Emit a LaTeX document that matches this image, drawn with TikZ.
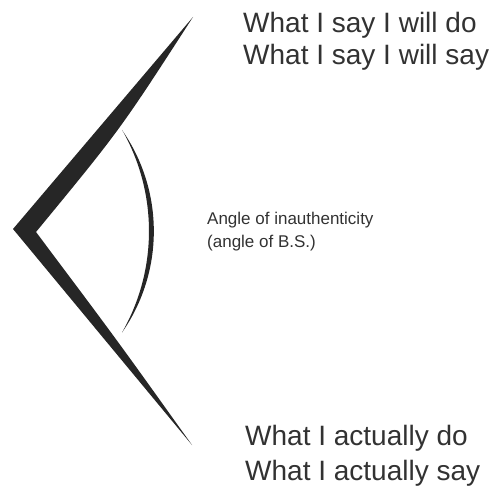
\documentclass[tikz,border=0pt]{standalone}
\usepackage{fontspec}
\setmainfont{Liberation Sans}
\usetikzlibrary{positioning}
\definecolor{inkgray}{RGB}{38, 38, 38}
\definecolor{textgray}{RGB}{50, 50, 50}

\begin{document}
\begin{tikzpicture}[x=1pt, y=-1pt,
    bigtext/.style={anchor=base west, inner sep=0pt, text=textgray,
      font=\fontsize{28}{34}\selectfont},
    smalltext/.style={anchor=base west, inner sep=0pt, text=textgray,
      font=\fontsize{17}{22}\selectfont}]

  \useasboundingbox (0,0) rectangle (495,489);

  % ===== 两条渐细的边（楔形） =====
  \fill[inkgray] (193,17) -- (13,229) -- (192,445)
    .. controls (117,340) .. (36,232)
    .. controls (120,130) .. (193,17) -- cycle;

  % ===== 角度弧（月牙形） =====
  \fill[inkgray] (122,130) arc[start angle=-34.9, end angle=34.9, radius=177]
    arc[start angle=29.8, end angle=-29.8, radius=204] -- cycle;

  % ===== 文字 =====
  \node[bigtext] (sayDo) at (243,33) {What I say I will do};
  \node[bigtext] (saySay) at (243,65) {What I say I will say};

  \node[smalltext] (angleA) at (207,225) {Angle of inauthenticity};
  \node[smalltext] (angleB) at (207,247) {(angle of B.S.)};

  \node[bigtext] (actDo) at (245,445) {What I actually do};
  \node[bigtext] (actSay) at (245,480) {What I actually say};

\end{tikzpicture}
\end{document}
